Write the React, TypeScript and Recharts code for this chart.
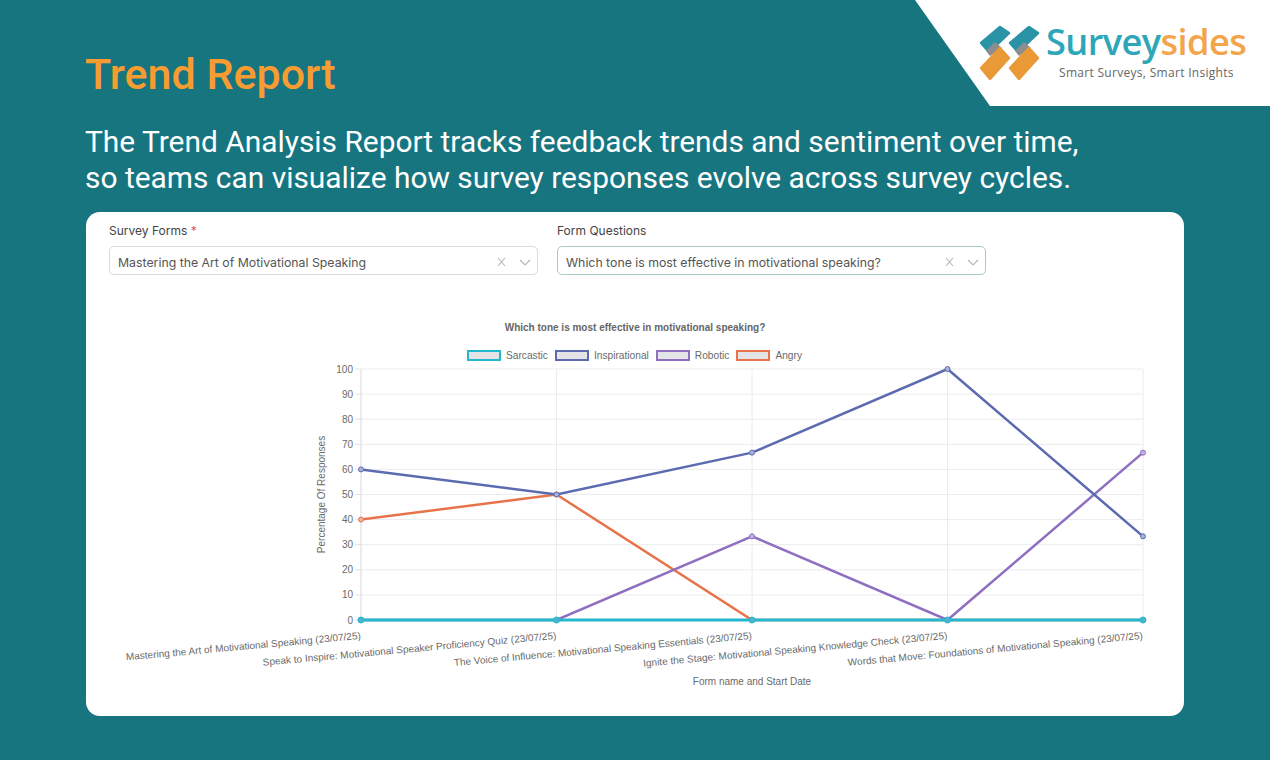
import { LineChart, Line, XAxis, YAxis, CartesianGrid, Legend } from "recharts";

const forms = [
  "Mastering the Art of Motivational Speaking (23/07/25)",
  "Speak to Inspire: Motivational Speaker Proficiency Quiz (23/07/25)",
  "The Voice of Influence: Motivational Speaking Essentials (23/07/25)",
  "Ignite the Stage: Motivational Speaking Knowledge Check (23/07/25)",
  "Words that Move: Foundations of Motivational Speaking (23/07/25)",
];
const sarcastic = [0, 0, 0, 0, 0];
const inspirational = [60, 50, 66.67, 100, 33.33];
const robotic = [0, 0, 33.33, 0, 66.67];
const angry = [40, 50, 0, 0, 0];
const yTicks = [0, 10, 20, 30, 40, 50, 60, 70, 80, 90, 100];

const legendNames = ["Sarcastic", "Inspirational", "Robotic", "Angry"];
const legendColors = ["#22b8cf", "#5c6bb0", "#8f6fc0", "#e8734a"];

const data = forms.map((form, i) => ({
  form,
  Sarcastic: sarcastic[i],
  Inspirational: inspirational[i],
  Robotic: robotic[i],
  Angry: angry[i],
}));

const CHART_FONT = "'Liberation Sans', Arial, sans-serif";
const FIELD_FONT = "Inter, sans-serif";
const TEAL = "#17757f";

function FormTick({ x, y, payload }: any) {
  return (
    <text
      x={x}
      y={y}
      dy={11}
      textAnchor="end"
      fontSize={10}
      fontFamily={CHART_FONT}
      fill="#6a6a6a"
      transform={`rotate(-5.2 ${x} ${y + 11})`}
    >
      {payload.value}
    </text>
  );
}

function ChartLegend() {
  return (
    <div style={{ display: "flex", fontSize: 10.2, fontFamily: CHART_FONT, color: "#6a6a6a", alignItems: "center" }}>
      {legendNames.map((name, i) => (
        <div key={name} style={{ display: "flex", alignItems: "center", marginRight: 7 }}>
          <span
            style={{
              width: 30,
              height: 7,
              background: "#e4e4e6",
              border: `2.5px solid ${legendColors[i]}`,
              marginRight: 5,
              display: "inline-block",
            }}
          />
          {name}
        </div>
      ))}
    </div>
  );
}

function Field({ left, width, label, value, required, border }: any) {
  return (
    <>
      <div style={{ position: "absolute", left, top: 11, fontSize: 12, color: "#444", fontFamily: FIELD_FONT, lineHeight: "15px" }}>
        {label}
        {required && <span style={{ color: "#e0555f" }}> *</span>}
      </div>
      <div
        style={{
          position: "absolute",
          left,
          top: 34,
          width,
          height: 29,
          boxSizing: "border-box",
          border: `1px solid ${border}`,
          borderRadius: 5,
          fontSize: 12.3,
          lineHeight: "31px",
          paddingLeft: 8,
          color: "#555",
          fontFamily: FIELD_FONT,
        }}
      >
        {value}
        <svg width={40} height={12} style={{ position: "absolute", right: 2, top: 9 }}>
          <path d="M3 2 L10 10 M10 2 L3 10" stroke="#b5b5b5" strokeWidth={1.1} fill="none" />
          <path d="M25 4 L30 9 L35 4" stroke="#b5b5b5" strokeWidth={1.1} fill="none" />
        </svg>
      </div>
    </>
  );
}

function Logo() {
  const mark = (dx: number) => (
    <g key={dx} transform={`translate(${dx} 0)`} strokeLinejoin="round">
      <polygon points="981,43 1000,27 1009,33 989,52" fill="#2a93a6" stroke="#2a93a6" strokeWidth={2.5} />
      <polygon points="986,51 995,42 1002,48 990,56" fill="#8d8d8d" />
      <polygon points="981,68 1000,48 1009,58 990,79" fill="#e99a36" stroke="#e99a36" strokeWidth={2.5} />
    </g>
  );
  return (
    <>
      <svg width={1270} height={760} style={{ position: "absolute", left: 0, top: 0 }}>
        <polygon points="915,0 1270,0 1270,106 990,106" fill="#fff" />
        {mark(0)}
        {mark(29)}
      </svg>
      <div style={{ position: "absolute", left: 1046, top: 19, fontFamily: "'Open Sans', sans-serif", fontSize: 36.2, fontWeight: 600, lineHeight: "44px", letterSpacing: -0.6 }}>
        <span style={{ color: "#2ea6ba" }}>Survey</span>
        <span style={{ color: "#f3a54c" }}>sides</span>
      </div>
      <div style={{ position: "absolute", left: 1059, top: 65, fontFamily: "'Open Sans', sans-serif", fontSize: 12, color: "#666", lineHeight: "16px", letterSpacing: 0.3 }}>
        Smart Surveys, Smart Insights
      </div>
    </>
  );
}

export default function App() {
  return (
    <div style={{ position: "absolute", left: 0, top: 0, width: 1270, height: 760, background: TEAL, overflow: "hidden" }}>
      <Logo />
      <div style={{ position: "absolute", left: 85, top: 48, fontFamily: "Roboto, sans-serif", fontWeight: 500, fontSize: 43, lineHeight: "52px", color: "#f79c30" }}>
        Trend Report
      </div>
      <div style={{ position: "absolute", left: 85, top: 124, fontFamily: "Roboto, sans-serif", fontSize: 29.9, lineHeight: "36px", color: "#fff", whiteSpace: "nowrap" }}>
        The Trend Analysis Report tracks feedback trends and sentiment over time,
        <br />
        so teams can visualize how survey responses evolve across survey cycles.
      </div>

      <div style={{ position: "absolute", left: 86, top: 212, width: 1098, height: 504, background: "#fff", borderRadius: 14 }}>
        <Field left={23} width={429} label="Survey Forms" required value="Mastering the Art of Motivational Speaking" border="#d5dcdc" />
        <Field left={471} width={429} label="Form Questions" value="Which tone is most effective in motivational speaking?" border="#a9c9c9" />

        <div style={{ position: "absolute", left: 349, width: 400, top: 109, textAlign: "center", fontFamily: CHART_FONT, fontSize: 10, fontWeight: 700, color: "#666", lineHeight: "14px" }}>
          Which tone is most effective in motivational speaking?
        </div>

        <div style={{ position: "absolute", left: 0, top: 0 }}>
          <LineChart width={1098} height={504} data={data} margin={{ top: 146, right: 41, bottom: 26, left: 225 }}>
            <CartesianGrid stroke="#ececee" strokeWidth={1} />
            <XAxis
              dataKey="form"
              interval={0}
              height={70}
              tick={<FormTick />}
              tickLine={false}
              axisLine={false}
              label={{ value: "Form name and Start Date", position: "insideBottom", offset: 5, fontSize: 10, fontFamily: CHART_FONT, fill: "#6a6a6a" }}
            />
            <YAxis
              domain={[0, 100]}
              ticks={yTicks}
              width={50}
              tick={{ fontSize: 10, fontFamily: CHART_FONT, fill: "#6a6a6a" }}
              tickLine={{ stroke: "#e2e2e4" }}
              tickSize={6}
              axisLine={{ stroke: "#e2e2e4" }}
              label={{ value: "Percentage Of Responses", angle: -90, position: "insideLeft", offset: 10, fontSize: 10, fontFamily: CHART_FONT, fill: "#6a6a6a", style: { textAnchor: "middle" } }}
            />
            <Legend
              verticalAlign="top"
              align="left"
              content={<ChartLegend />}
              wrapperStyle={{ top: 138, left: 381, width: "auto" }}
            />
            <Line dataKey="Angry" stroke={legendColors[3]} strokeWidth={2.5} dot={{ r: 2.5, fill: "#e3b8a8", stroke: legendColors[3], strokeWidth: 1 }} isAnimationActive={false} />
            <Line dataKey="Robotic" stroke={legendColors[2]} strokeWidth={2.5} dot={{ r: 2.5, fill: "#c4b2dc", stroke: legendColors[2], strokeWidth: 1 }} isAnimationActive={false} />
            <Line dataKey="Inspirational" stroke={legendColors[1]} strokeWidth={2.5} dot={{ r: 2.5, fill: "#aab2d6", stroke: legendColors[1], strokeWidth: 1 }} isAnimationActive={false} />
            <Line dataKey="Sarcastic" stroke={legendColors[0]} strokeWidth={3} dot={{ r: 3, fill: "#4fb3cc", stroke: legendColors[0], strokeWidth: 1 }} isAnimationActive={false} />
          </LineChart>
        </div>
      </div>
    </div>
  );
}
